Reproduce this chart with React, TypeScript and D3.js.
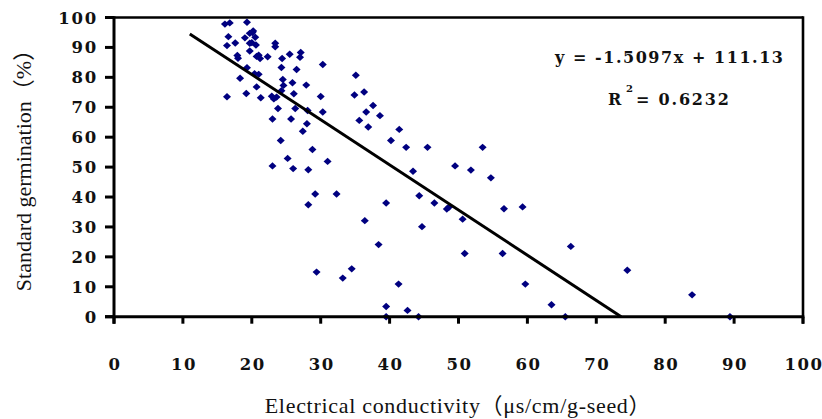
import React from "react";
import * as d3 from "d3";

// Electrical conductivity (x) and standard germination (y) for each seed lot
const ecValues: number[] = [
  16.1, 16.8, 19.3, 16.6, 16.4, 17.6, 19.0, 19.7, 20.2, 20.1, 20.5, 19.7, 20.0, 20.6,
  17.9, 18.0, 19.7, 21.0, 21.2, 20.7, 22.3, 23.4, 23.4, 24.4, 25.5, 27.1, 27.0,
  19.3, 18.3, 20.4, 21.0, 24.3, 26.5, 30.3,
  20.7, 21.3, 19.2, 16.4, 22.9, 23.2, 23.6, 24.5, 24.6, 25.9, 24.3, 26.1, 27.9, 30.0,
  23.8, 26.3, 28.1, 30.3, 23.0, 25.7, 28.0, 27.4,
  24.2, 28.8, 25.2, 31.0, 23.0, 26.0, 28.2, 29.2, 32.3, 28.2,
  35.1, 34.9, 36.3, 37.6, 36.6, 38.6, 35.6, 36.9,
  41.4, 40.2, 42.4, 45.5, 53.5, 43.4, 49.5, 51.8, 54.7, 44.3,
  39.5, 46.5, 48.3, 48.6, 50.6, 56.6, 59.3,
  36.4, 44.7, 38.4, 50.9, 56.4, 66.3,
  29.4, 33.2, 34.5, 41.3, 59.7,
  39.5, 42.6, 63.5, 39.5, 44.2, 65.5,
  74.5, 83.9, 89.4,
];
const germValues: number[] = [
  97.8, 98.2, 98.4, 93.6, 90.6, 91.5, 93.2, 94.7, 95.5, 95.0, 93.4, 91.4, 91.6, 90.8,
  87.3, 86.4, 88.8, 87.4, 86.3, 87.0, 86.9, 91.4, 90.2, 86.3, 87.7, 88.3, 86.7,
  83.2, 79.7, 81.2, 81.0, 83.3, 82.6, 84.3,
  76.8, 73.2, 74.6, 73.5, 73.7, 72.8, 73.4, 79.3, 77.3, 78.2, 75.5, 74.5, 77.4, 73.6,
  69.6, 69.6, 68.9, 68.4, 66.1, 66.1, 64.5, 62.0,
  58.9, 55.9, 52.9, 51.9, 50.4, 49.5, 49.1, 41.0, 41.0, 37.4,
  80.7, 74.1, 75.1, 70.6, 68.4, 67.2, 65.6, 63.4,
  62.6, 58.9, 56.6, 56.6, 56.6, 48.6, 50.4, 49.0, 46.4, 40.4,
  38.0, 38.0, 36.0, 36.6, 32.6, 36.1, 36.7,
  32.1, 30.1, 24.1, 21.1, 21.1, 23.5,
  14.9, 12.9, 16.0, 10.9, 10.9,
  3.4, 2.1, 4.0, 0, 0, 0,
  15.5, 7.3, 0,
];

const xTicks: number[] = [0, 10, 20, 30, 40, 50, 60, 70, 80, 90, 100];
const yTicks: number[] = [0, 10, 20, 30, 40, 50, 60, 70, 80, 90, 100];

const slope = -1.5097;
const intercept = 111.13;
const trendStartX = 11;
const trendEndX = -intercept / slope;

const equationText = "y = -1.5097x + 111.13";
const r2Value = "0.6232";
const xTitle = "Electrical conductivity（μs/cm/g-seed）";
const yTitle = "Standard germination（%）";

const W = 822;
const H = 419;

export default function App() {
  const x = d3.scaleLinear().domain([0, 100]).range([114, 803]);
  const y = d3.scaleLinear().domain([0, 100]).range([316.7, 17.5]);
  const points = ecValues.map((v, i) => [v, germValues[i]] as [number, number]);
  const line = d3
    .line<number>()
    .x((d) => x(d))
    .y((d) => y(slope * d + intercept));
  const diamond = "M0,-3.7L4,0L0,3.7L-4,0Z";
  const tickFont = "'DejaVu Serif', serif";
  const titleFont = "'Liberation Serif', 'Noto Sans CJK SC', serif";

  return (
    <svg
      width={W}
      height={H}
      style={{ position: "absolute", left: 0, top: 0, background: "#fff" }}
    >
      {/* frame: top and right */}
      <line x1={x(0)} x2={x(100)} y1={y(100)} y2={y(100)} stroke="#000" strokeWidth={2.6} />
      <line x1={x(100)} x2={x(100)} y1={y(100) - 1.3} y2={y(0) + 7} stroke="#000" strokeWidth={2.6} />

      {/* points */}
      {points.map((p, i) => (
        <path
          key={i}
          d={diamond}
          transform={`translate(${x(p[0])},${y(p[1])})`}
          fill="#000080"
        />
      ))}

      {/* regression line */}
      <path
        d={line([trendStartX, trendEndX]) || ""}
        stroke="#000"
        strokeWidth={3}
        fill="none"
      />

      {/* y axis */}
      <line x1={x(0)} x2={x(0)} y1={y(100) - 1.3} y2={y(0) + 7} stroke="#000" strokeWidth={3} />
      {yTicks.map((t) => (
        <g key={"y" + t}>
          <line x1={x(0) - 9} x2={x(0)} y1={y(t)} y2={y(t)} stroke="#000" strokeWidth={3} />
          <text
            x={98}
            y={y(t) + 6}
            textAnchor="end"
            fontFamily={tickFont}
            fontWeight="bold"
            fontSize={16.5}
            letterSpacing={1.8}
            fill="#111"
          >
            {t}
          </text>
        </g>
      ))}

      {/* x axis */}
      <line x1={x(0) - 9} x2={x(100) + 1.3} y1={y(0)} y2={y(0)} stroke="#000" strokeWidth={3} />
      {xTicks.map((t) => (
        <g key={"x" + t}>
          <line x1={x(t)} x2={x(t)} y1={y(0)} y2={y(0) + 7} stroke="#000" strokeWidth={3} />
          <text
            x={x(t) + 1}
            y={370}
            textAnchor="middle"
            fontFamily={tickFont}
            fontWeight="bold"
            fontSize={16.5}
            letterSpacing={1.5}
            fill="#111"
          >
            {t}
          </text>
        </g>
      ))}

      {/* equation */}
      <text
        x={555}
        y={63}
        fontFamily={tickFont}
        fontWeight="bold"
        fontSize={16}
        textLength={228}
        lengthAdjust="spacing"
        fill="#111"
      >
        {equationText}
      </text>
      <text x={608} y={105} fontFamily={tickFont} fontWeight="bold" fontSize={16} fill="#111">
        R
      </text>
      <text x={626} y={92} fontFamily={tickFont} fontWeight="bold" fontSize={10} fill="#111">
        2
      </text>
      <text
        x={636}
        y={105}
        fontFamily={tickFont}
        fontWeight="bold"
        fontSize={16}
        letterSpacing={1.8}
        fill="#111"
      >
        {"= " + r2Value}
      </text>

      {/* axis titles */}
      <text
        x={458}
        y={413}
        textAnchor="middle"
        fontFamily={titleFont}
        fontSize={22}
        letterSpacing={0.7}
        fill="#111"
      >
        {xTitle}
      </text>
      <text
        transform={`translate(31,165) rotate(-90)`}
        textAnchor="middle"
        fontFamily={titleFont}
        fontSize={22}
        fill="#111"
      >
        {yTitle}
      </text>
    </svg>
  );
}
